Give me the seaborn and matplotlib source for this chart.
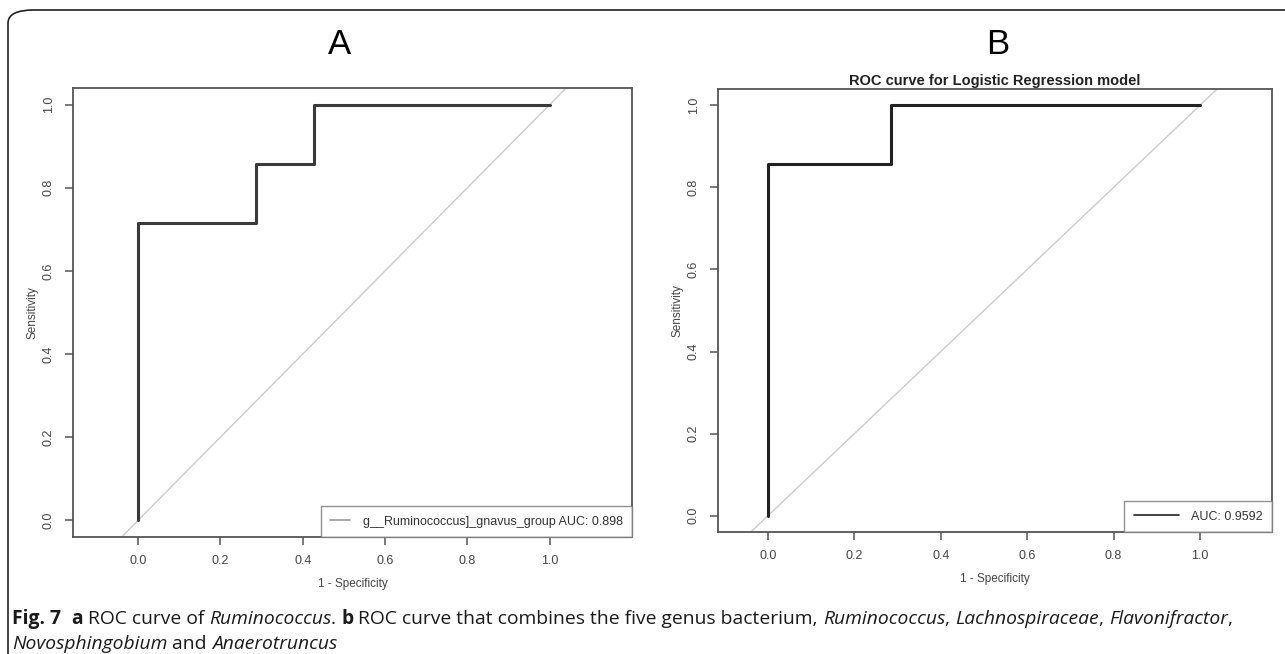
import matplotlib
matplotlib.use("Agg")
import matplotlib.pyplot as plt
import seaborn as sns
import pandas as pd
from matplotlib.patches import FancyBboxPatch

# ---- data (ROC step vertices) ----
fpr_a = [0.0, 0.0, 0.2857, 0.2857, 0.4286, 0.4286, 1.0]
tpr_a = [0.0, 0.7143, 0.7143, 0.8571, 0.8571, 1.0, 1.0]
label_a = "g__Ruminococcus]_gnavus_group AUC: 0.898"

fpr_b = [0.0, 0.0, 0.2857, 0.2857, 1.0]
tpr_b = [0.0, 0.8571, 0.8571, 1.0, 1.0]
label_b = "AUC: 0.9592"

ticks = [0.0, 0.2, 0.4, 0.6, 0.8, 1.0]
tick_labels = ["0.0", "0.2", "0.4", "0.6", "0.8", "1.0"]

sns.set_theme(style="white")
plt.rcParams['font.family'] = ['Liberation Sans', 'DejaVu Sans']

W, H = 1285, 654
fig = plt.figure(figsize=(W / 100, H / 100), dpi=100)


def px_axes(l, t, r, b):
    return fig.add_axes([l / W, 1 - b / H, (r - l) / W, (b - t) / H])


def style_axes(ax, xlim):
    ax.set_xlim(*xlim)
    ax.set_ylim(-0.04, 1.04)
    for s in ax.spines.values():
        s.set_color("#555555")
        s.set_linewidth(1.3)
    ax.set_xticks(ticks)
    ax.set_xticklabels(tick_labels, fontsize=9, color="#444444")
    ax.set_yticks(ticks)
    ax.set_yticklabels(tick_labels, fontsize=9, color="#444444", rotation=90, va="center")
    ax.tick_params(axis="both", direction="out", length=6, width=1.1, color="#555555", pad=7,
                   bottom=True, left=True)
    # diagonal reference line
    ax.plot([-0.2, 1.2], [-0.2, 1.2], color="#cccccc", lw=1.0, zorder=1)


def labels(ax):
    ax.set_xlabel("1 - Specificity", fontsize=8.5, color="#444444", labelpad=8)
    ax.set_ylabel("Sensitivity", fontsize=8.5, color="#444444", labelpad=3)


def legend(ax, handle, text, hl):
    leg = ax.legend([handle], [text], loc="lower right", fontsize=9, frameon=True,
                    fancybox=False, borderaxespad=0, handlelength=hl, borderpad=0.75,
                    handletextpad=1.0, labelcolor="#333333")
    leg.get_frame().set_edgecolor("#777777")
    leg.get_frame().set_linewidth(1.0)


# ---- panel A ----
axA = px_axes(73, 88, 632, 537)
style_axes(axA, (-0.158, 1.2))
dfa = pd.DataFrame({"fpr": fpr_a, "tpr": tpr_a})
sns.lineplot(data=dfa, x="fpr", y="tpr", sort=False, estimator=None, ax=axA,
             color="#3a3a3a", lw=2.2, zorder=3)
labels(axA)
hA, = axA.plot([], [], color="#999999", lw=1.2)
legend(axA, hA, label_a, 1.6)

# ---- panel B ----
axB = px_axes(718, 89, 1272, 532)
style_axes(axB, (-0.116, 1.167))
dfb = pd.DataFrame({"fpr": fpr_b, "tpr": tpr_b})
sns.lineplot(data=dfb, x="fpr", y="tpr", sort=False, estimator=None, ax=axB,
             color="#222222", lw=2.2, zorder=3)
labels(axB)
axB.set_title("ROC curve for Logistic Regression model", fontsize=10.5, fontweight="bold",
              color="#222222", pad=3)
hB, = axB.plot([], [], color="#222222", lw=1.2)
legend(axB, hB, label_b, 3.6)

# ---- panel letters ----
fig.text(340 / W, 1 - 45 / H, "A", fontsize=25, ha="center", va="center",
         family=["Liberation Sans Narrow", "Liberation Sans"], color="black")
fig.text(998 / W, 1 - 45 / H, "B", fontsize=25, ha="center", va="center",
         family=["Liberation Sans Narrow", "Liberation Sans"], color="black")

# ---- outer rounded frame ----
frame = FancyBboxPatch((8 / W, -0.05), 1.2, 1 - 10 / H + 0.05,
                       boxstyle="round,pad=0,rounding_size=0.02",
                       transform=fig.transFigure, fill=False, edgecolor="#222222",
                       linewidth=1.2, clip_on=False)
fig.patches.append(frame)

# ---- caption with mixed styles ----
cap_font = ["Open Sans", "DejaVu Sans"]
cap_size = 13.9
line1 = [("Fig. 7", "bold", "normal"), ("  ", "normal", "normal"), ("a", "bold", "normal"),
         (" ROC curve of ", "normal", "normal"), ("Ruminococcus", "normal", "italic"),
         (". ", "normal", "normal"), ("b", "bold", "normal"),
         (" ROC curve that combines the five genus bacterium, ", "normal", "normal"),
         ("Ruminococcus", "normal", "italic"), (", ", "normal", "normal"),
         ("Lachnospiraceae", "normal", "italic"), (", ", "normal", "normal"),
         ("Flavonifractor", "normal", "italic"), (",", "normal", "normal")]
line2 = [("Novosphingobium", "normal", "italic"), (" and ", "normal", "normal"),
         ("Anaerotruncus", "normal", "italic")]

fig.canvas.draw()
renderer = fig.canvas.get_renderer()


def draw_line(parts, x0, y):
    x = x0
    for txt, weight, style in parts:
        t = fig.text(x / W, 1 - y / H, txt, fontsize=cap_size, fontweight=weight,
                     fontstyle=style, family=cap_font, va="baseline", ha="left",
                     color="#1a1a1a")
        bb = t.get_window_extent(renderer=renderer)
        x += bb.width


draw_line(line1, 12, 624)
draw_line(line2, 12, 649)

fig.savefig("out.png", dpi=100)
